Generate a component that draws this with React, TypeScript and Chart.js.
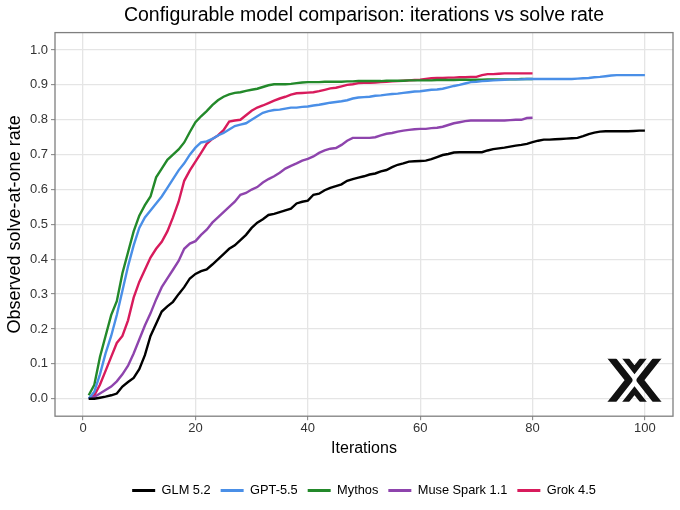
import React, { useEffect, useRef } from "react";
import { Chart, registerables } from "chart.js";

Chart.register(...registerables);

const TITLE = "Configurable model comparison: iterations vs solve rate";
const X_TITLE = "Iterations";
const Y_TITLE = "Observed solve-at-one rate";
const X_TICKS = [0, 20, 40, 60, 80, 100];
const Y_TICKS = [0, 0.1, 0.2, 0.3, 0.4, 0.5, 0.6, 0.7, 0.8, 0.9, 1.0];

const SERIES_NAMES = ["GLM 5.2", "GPT-5.5", "Mythos", "Muse Spark 1.1", "Grok 4.5"];
const SERIES_COLORS = ["#000000", "#4a8fe7", "#23892a", "#8e44ad", "#d81b5c"];

const GLM_52 = [
  0, 0, 0.003, 0.006, 0.01, 0.015, 0.035, 0.048, 0.06, 0.085,
  0.125, 0.18, 0.215, 0.25, 0.265, 0.278, 0.3, 0.32, 0.345, 0.358,
  0.366, 0.371, 0.385, 0.4, 0.415, 0.43, 0.44, 0.455, 0.47, 0.49,
  0.505, 0.515, 0.527, 0.53, 0.535, 0.54, 0.545, 0.56, 0.565, 0.568,
  0.585, 0.588, 0.598, 0.605, 0.61, 0.615, 0.625, 0.63, 0.634, 0.638,
  0.643, 0.646, 0.652, 0.656, 0.664, 0.671, 0.675, 0.68, 0.681, 0.682,
  0.683, 0.687, 0.693, 0.699, 0.702, 0.706, 0.707, 0.707, 0.707, 0.707,
  0.707, 0.712, 0.716, 0.718, 0.72, 0.723, 0.726, 0.728, 0.731, 0.736,
  0.74, 0.743, 0.743, 0.744, 0.745, 0.746, 0.747, 0.748, 0.753, 0.759,
  0.763, 0.766, 0.767, 0.767, 0.767, 0.767, 0.767, 0.768, 0.769, 0.769,
];

const GPT_55 = [
  0, 0.02, 0.07, 0.13, 0.18, 0.24, 0.31, 0.38, 0.44, 0.49,
  0.52, 0.54, 0.56, 0.58, 0.605, 0.63, 0.655, 0.675, 0.7, 0.72,
  0.735, 0.738, 0.745, 0.755, 0.762, 0.772, 0.782, 0.786, 0.79, 0.8,
  0.81, 0.82, 0.825, 0.828, 0.829, 0.832, 0.835, 0.835, 0.837, 0.838,
  0.841, 0.843, 0.846, 0.849, 0.851, 0.853, 0.856, 0.861, 0.864, 0.865,
  0.866, 0.869, 0.87, 0.872, 0.874, 0.875, 0.877, 0.879, 0.881, 0.882,
  0.884, 0.886, 0.887, 0.889, 0.893, 0.897, 0.9, 0.904, 0.908, 0.909,
  0.911, 0.912, 0.913, 0.914, 0.915, 0.916, 0.916, 0.916, 0.917, 0.917,
  0.917, 0.917, 0.917, 0.917, 0.917, 0.917, 0.917, 0.918, 0.919, 0.92,
  0.922, 0.923, 0.925, 0.927, 0.928, 0.928, 0.928, 0.928, 0.928, 0.928,
];

const MYTHOS = [
  0.01, 0.04, 0.12, 0.18, 0.24, 0.28, 0.36, 0.42, 0.48, 0.525,
  0.555, 0.58, 0.635, 0.66, 0.685, 0.7, 0.715, 0.735, 0.765, 0.793,
  0.81, 0.825, 0.842, 0.856, 0.866, 0.873, 0.877, 0.879, 0.883, 0.886,
  0.889, 0.894, 0.899, 0.902, 0.902, 0.902, 0.903, 0.905, 0.907, 0.908,
  0.908, 0.908, 0.909, 0.909, 0.909, 0.909, 0.91, 0.91, 0.911, 0.911,
  0.911, 0.911, 0.911, 0.912, 0.912, 0.912, 0.912, 0.913, 0.913, 0.913,
  0.913, 0.913, 0.914, 0.914, 0.914, 0.914, 0.915, 0.915, 0.915, 0.915,
  0.915, 0.916, 0.916, 0.916, 0.916, 0.916, 0.916, 0.917, 0.917, 0.917,
];

const MUSE_SPARK_11 = [
  0, 0.005, 0.015, 0.025, 0.035, 0.05, 0.07, 0.095, 0.13, 0.17,
  0.21, 0.245, 0.285, 0.32, 0.345, 0.37, 0.395, 0.43, 0.445, 0.452,
  0.47, 0.485, 0.505, 0.52, 0.535, 0.55, 0.565, 0.585, 0.59, 0.6,
  0.607, 0.62, 0.63, 0.638, 0.648, 0.66, 0.668, 0.675, 0.683, 0.688,
  0.695, 0.705, 0.712, 0.717, 0.719, 0.728, 0.74, 0.748, 0.748, 0.748,
  0.748, 0.75, 0.755, 0.76, 0.762, 0.766, 0.769, 0.771, 0.773, 0.774,
  0.774, 0.776, 0.777, 0.78, 0.785, 0.79, 0.793, 0.796, 0.798, 0.798,
  0.798, 0.798, 0.798, 0.798, 0.798, 0.799, 0.8, 0.8, 0.805, 0.806,
];

const GROK_45 = [
  0, 0.01, 0.04, 0.08, 0.12, 0.16, 0.18, 0.225, 0.29, 0.335,
  0.37, 0.405, 0.43, 0.45, 0.48, 0.52, 0.565, 0.625, 0.655, 0.68,
  0.705, 0.731, 0.745, 0.755, 0.77, 0.795, 0.798, 0.8, 0.813, 0.826,
  0.835, 0.841, 0.848, 0.855, 0.861, 0.866, 0.872, 0.876, 0.877, 0.878,
  0.879, 0.882, 0.886, 0.89, 0.892, 0.896, 0.9, 0.902, 0.905, 0.906,
  0.906, 0.907, 0.908, 0.909, 0.91, 0.911, 0.912, 0.913, 0.914, 0.915,
  0.917, 0.919, 0.92, 0.92, 0.921, 0.921, 0.922, 0.922, 0.923, 0.923,
  0.928, 0.931, 0.931, 0.932, 0.933, 0.933, 0.933, 0.933, 0.933, 0.933,
];

const SERIES_VALUES = [GLM_52, GPT_55, MYTHOS, MUSE_SPARK_11, GROK_45];

const FONT = "'Liberation Sans', Arial, Helvetica, sans-serif";

const panelPlugin = {
  id: "panelBorder",
  beforeDatasetsDraw(chart: any) {
    const { ctx, chartArea } = chart;
    ctx.save();
    ctx.strokeStyle = "#7f7f7f";
    ctx.lineWidth = 1.3;
    ctx.strokeRect(chartArea.left, chartArea.top, chartArea.right - chartArea.left, chartArea.bottom - chartArea.top);
    ctx.restore();
  },
  afterDatasetsDraw(chart: any) {
    // watermark logo in the lower-right corner of the panel
    const { ctx, chartArea } = chart;
    const cx = chartArea.right - 38.5;
    const cy = chartArea.bottom - 36;
    const hw = 27.5;
    const hh = 21.5;
    const k = 0.79; // dx/dy of the diagonal strokes
    ctx.save();
    ctx.beginPath();
    ctx.rect(cx - hw, cy - hh, hw * 2, hh * 2);
    ctx.clip();
    ctx.strokeStyle = "#111111";
    ctx.lineCap = "butt";
    // outer arms: ">" and "<"
    ctx.lineJoin = "round";
    ctx.lineWidth = 7;
    const vx = 5.5;
    const ext = hh + 6;
    ctx.beginPath();
    ctx.moveTo(cx - vx - ext * k, cy - ext);
    ctx.lineTo(cx - vx, cy);
    ctx.lineTo(cx - vx - ext * k, cy + ext);
    ctx.moveTo(cx + vx + ext * k, cy - ext);
    ctx.lineTo(cx + vx, cy);
    ctx.lineTo(cx + vx + ext * k, cy + ext);
    ctx.stroke();
    // inner chevrons in the top and bottom notches
    ctx.lineJoin = "miter";
    ctx.lineWidth = 5.5;
    const tip = 10.5;
    const cext = hh - tip + 5;
    ctx.beginPath();
    ctx.moveTo(cx - cext * k, cy - tip - cext);
    ctx.lineTo(cx, cy - tip);
    ctx.lineTo(cx + cext * k, cy - tip - cext);
    ctx.moveTo(cx - cext * k, cy + tip + cext);
    ctx.lineTo(cx, cy + tip);
    ctx.lineTo(cx + cext * k, cy + tip + cext);
    ctx.stroke();
    ctx.restore();
  },
};

export default function App() {
  const canvasRef = useRef<HTMLCanvasElement | null>(null);

  useEffect(() => {
    const canvas = canvasRef.current;
    if (!canvas) return;
    const datasets = SERIES_NAMES.map((name, s) => ({
      label: name,
      data: SERIES_VALUES[s].map((v, i) => ({ x: i + 1, y: v })),
      borderColor: SERIES_COLORS[s],
      backgroundColor: SERIES_COLORS[s],
      borderWidth: 2.4,
      pointRadius: 0,
      pointHoverRadius: 0,
      tension: 0,
      fill: false,
    }));

    const chart = new Chart(canvas, {
      type: "line",
      data: { datasets },
      plugins: [panelPlugin],
      options: {
        animation: false,
        responsive: false,
        devicePixelRatio: 1,
        layout: { padding: { left: 0, right: 7, top: 0, bottom: 3 } },
        plugins: {
          title: {
            display: true,
            fullSize: false,
            text: TITLE,
            color: "#000000",
            font: { family: FONT, size: 19.5, weight: "normal" },
            padding: { top: 4, bottom: 5.2 },
          },
          legend: {
            position: "bottom",
            fullSize: false,
            labels: {
              color: "#000000",
              font: { family: FONT, size: 12.8 },
              boxWidth: 23,
              boxHeight: 3,
              padding: 10,
              generateLabels: (c: any) =>
                Chart.defaults.plugins.legend.labels
                  .generateLabels(c)
                  .map((l: any) => ({ ...l, lineWidth: 0, fillStyle: l.strokeStyle })),
            },
          },
          tooltip: { enabled: false },
        },
        scales: {
          x: {
            type: "linear",
            min: -5,
            max: 105,
            afterBuildTicks: (s: any) => {
              s.ticks = X_TICKS.map((v) => ({ value: v }));
            },
            afterFit: (s: any) => {
              s.height = 58;
            },
            ticks: {
              color: "#333333",
              font: { family: FONT, size: 13 },
              padding: 0,
              maxRotation: 0,
              autoSkip: false,
              callback: (v: any) => String(v),
            },
            grid: {
              color: "#e5e5e5",
              lineWidth: 1.3,
              tickLength: 4,
              tickColor: "#7f7f7f",
              tickWidth: 1,
            },
            border: { display: false },
            title: {
              display: true,
              text: X_TITLE,
              color: "#000000",
              font: { family: FONT, size: 16 },
              padding: { top: 0, bottom: 15.8 },
            },
          },
          y: {
            type: "linear",
            min: -0.05,
            max: 1.05,
            afterBuildTicks: (s: any) => {
              s.ticks = Y_TICKS.map((v) => ({ value: v }));
            },
            afterFit: (s: any) => {
              s.width = 55;
            },
            ticks: {
              color: "#333333",
              font: { family: FONT, size: 13 },
              padding: 3,
              autoSkip: false,
              callback: (v: any) => Number(v).toFixed(1),
            },
            grid: {
              color: "#e5e5e5",
              lineWidth: 1.3,
              tickLength: 4,
              tickColor: "#7f7f7f",
              tickWidth: 1,
            },
            border: { display: false },
            title: {
              display: true,
              text: Y_TITLE,
              color: "#000000",
              font: { family: FONT, size: 18 },
              padding: { top: 4, bottom: 0 },
            },
          },
        },
      },
    });

    return () => chart.destroy();
  }, []);

  return (
    <div style={{ position: "fixed", left: 0, top: 0, width: 680, height: 510, background: "#ffffff" }}>
      <canvas ref={canvasRef} width={680} height={510} style={{ display: "block", width: 680, height: 510 }} />
    </div>
  );
}
